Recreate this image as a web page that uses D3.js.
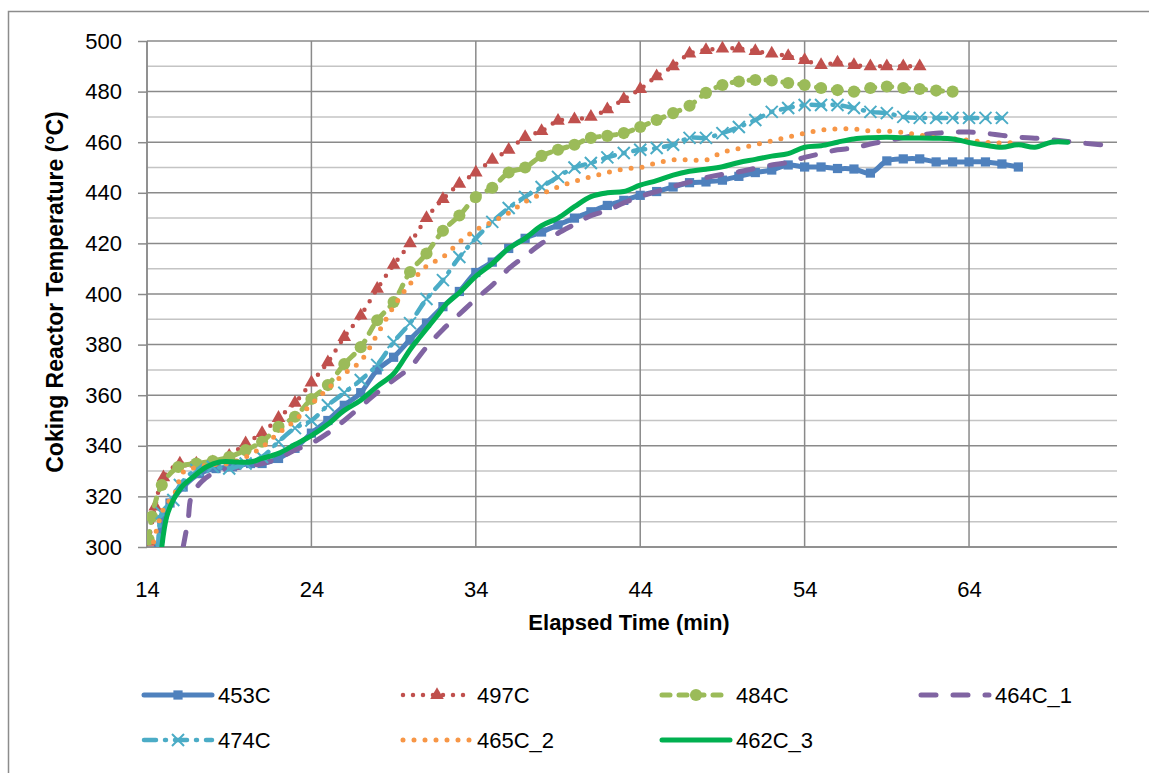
<!DOCTYPE html>
<html>
<head>
<meta charset="utf-8">
<script src="https://cdn.jsdelivr.net/npm/d3@7"></script>
<style>
  body { margin: 0; background: #fff; }
  text { font-family: "Liberation Sans", Arial, sans-serif; fill: #000; }
</style>
</head>
<body>
<div id="chart-area"></div>
<script>
// chart values (time in min, temperature in °C)
let xTicks = [14, 24, 34, 44, 54, 64];
let yTicks = [300, 320, 340, 360, 380, 400, 420, 440, 460, 480, 500];

let t453 = [14.7,14.9,15.4,16.2,17.2,18.2,19.2,20.3,21,22,23,24,25,26,27,28,29,30,31,32,33,34,35,36,37,38,39,40,41,42,43,44,45,46,47,48,49,50,51,52,53,54,55,56,57,58,59,60,61,62,63,64,65,66,67];
let v453 = [300,310.7,317.4,323.7,329,331,331.7,333,333,335,339,345,350,356,361,370,375,382,388.5,395,401,408.5,412.6,418,422,424.5,427.3,430,432.5,435,437,439,440.5,442.3,444,444.3,445,446.5,448,449,451,450.2,450.2,449.6,449.4,447.8,452.6,453.4,453.4,452.2,452.2,452.2,452.2,451.4,450.2];

let t497 = [14.1,14.5,15,16,17,18,19,20,21,22,23,24,25,26,27,28,29,30,31,32,33,34,35,36,37,38,39,40,41,42,43,44,45,46,47,48,49,50,51,52,53,54,55,56,57,58,59,60,61];
let v497 = [302,316,327.5,333,333,333.5,336,341,345,351,357,365,373,383,391.5,402,411.5,420,430,437.5,443.5,448,453,457,462,464.4,468.4,469,470,473,477,481,486,490,495,496.4,497,497,496,495,494,492.5,490.5,491.5,490.5,490,490,490,490];

let t484 = [14.1,14.3,14.9,15.9,17,18,19,20,21,22,23,24,25,26,27,28,29,30,31,32,33,34,35,36,37,38,39,40,41,42,43,44,45,46,47,48,49,50,51,52,53,54,55,56,57,58,59,60,61,62,63];
let v484 = [303,312,324.5,331.6,333,334,335.6,338.3,341.6,347.5,351.5,358.5,364,372.3,379,389.6,396.8,408.7,416,425,431,438.3,442,448,450,454.6,457,459,461.7,462.5,463.6,466,468.8,471.5,474.4,479.5,482.6,484,484.6,484.4,483.4,482.6,481.4,480.6,480,481.4,482,481.4,481,480.4,480];

let t464 = [16.2,16.5,16.7,17.3,18,19,20,21,22,23,24,25,26,27,28,29,30,31,32,33,34,35,36,37,38,39,40,41,42,43,44,45,46,47,48,49,50,51,52,53,54,55,56,57,58,59,60,61,62,63,64,65,66,67,68,69,70,71,72,73];
let v464 = [300,310.7,320,325.7,329,331,331.7,333,335,338.3,341,345,350,355.5,361,366,371,379,386,392,398,403.5,410,415,420,424,427.5,431,433,436,438.5,440.5,442.5,444.3,446,447.3,448.3,449.7,451,452,454,455.5,457,457.7,459.3,460.5,461.8,462.8,463.5,464,464,463.5,462.7,462,461.6,461,460.3,459.6,459,458.3];

let t474 = [14.7,14.9,15.6,16,17,18,19,20,21,22,23,24,25,26,27,28,29,30,31,32,33,34,35,36,37,38,39,40,41,42,43,44,45,46,47,48,49,50,51,52,53,54,55,56,57,58,59,60,61,62,63,64,65,66];
let v474 = [300,313.4,318.6,324.5,330.5,331.7,331,333,335.6,341.6,347,350,356,361,366,372,381,388.5,398,405.5,414.6,422,428.5,434,438.4,442.3,446.3,450,451.8,454,455.7,457,457.7,459,461.7,461.7,463.6,466,468.8,472,473.5,474.7,474.7,474.7,473.5,472,471.5,470,469.6,469.6,469.6,469.6,469.6,469.6];

let t465 = [14.4,15,15.7,16.2,17,18,19,20,21,22,23,24,25,26,27,28,29,30,31,32,33,34,35,36,37,38,39,40,41,42,43,44,45,46,47,48,49,50,51,52,53,54,55,56,57,58,59,60,61,62,63,64,65,66,67];
let v465 = [302,315,321.3,329.6,331.5,332.5,333,335.6,339.5,345,350,356.5,362.5,368.5,373.5,384,395,404,411,414.6,420.5,425.3,428.5,432,436.5,439.5,442.3,444.5,446.3,448,449.4,450,451.8,453,453,453,456,457.5,459,460.5,462,463.5,464.8,465.2,465.2,464.4,464.4,463.8,462.8,461.7,461.3,460.8,460,459.7,460];

let t462 = [14.9,15.2,15.6,16.1,16.8,17.6,18.4,19.5,20.3,21,22,23,24,25,26,27,28,29,30,30.6,31.6,32.2,33,34,35,36,37,38,39,40,41,42,43,44,45,46,47,48,49,50,51,52,53,54,55,56,57,58,59,60,61,62,63,64,65,66,67,68,69,70];
let v462 = [300,312,318.6,323.7,327.7,331.6,333.6,333.6,333.6,335,337,340.5,344,348.5,354,358,363.5,368.5,378,383,391,396,400.5,407,412,418,422,427,430,434.5,438.5,440,440.5,443,444.8,447,448.5,449.3,450.3,452,453.2,454.5,455.5,458,458.6,460,461.3,461.8,462,461.7,461.7,461.6,461.3,459.9,458.8,458,459,458,460,460];

let seriesNames = ["453C", "497C", "484C", "464C_1", "474C", "465C_2", "462C_3"];
let seriesTimes = [t453, t497, t484, t464, t474, t465, t462];
let seriesTemps = [v453, v497, v484, v464, v474, v465, v462];

// look of each series (Excel 2010 palette)
let styles = [
	{color: "#4F81BD", width: 5, dash: null, marker: "square"},
	{color: "#C0504D", width: 4.5, dash: "0,10", marker: "triangle"},
	{color: "#9BBB59", width: 5, dash: "8,9", marker: "circle"},
	{color: "#8064A2", width: 5, dash: "15,17", marker: null},
	{color: "#4BACC6", width: 4.5, dash: "12,9,1,9", marker: "x"},
	{color: "#F79646", width: 5, dash: "0,11", marker: null},
	{color: "#00B050", width: 5, dash: null, marker: null}
];

let W = 1149, H = 773;
let plot = {left: 147, top: 41, right: 1117, bottom: 547};

let svg = d3.select("#chart-area").append("svg")
	.attr("width", W)
	.attr("height", H);

// outer chart border
svg.append("rect")
	.attr("x", 8.5).attr("y", 11.5)
	.attr("width", 1200).attr("height", 800)
	.attr("fill", "none")
	.attr("stroke", "#8c8c8c")
	.attr("stroke-width", 1.5);

let xScale = d3.scaleLinear().domain([14, 73]).range([plot.left, plot.right]);
let yScale = d3.scaleLinear().domain([300, 500]).range([plot.bottom, plot.top]);

// minor horizontal grid every 10
let minor = d3.range(310, 500, 20);
svg.append("g").selectAll("line")
	.data(minor)
	.enter().append("line")
	.attr("x1", plot.left).attr("x2", plot.right)
	.attr("y1", d => yScale(d)).attr("y2", d => yScale(d))
	.attr("stroke", "#c4c4c4")
	.attr("stroke-width", 1.5);

// major horizontal grid
svg.append("g").selectAll("line")
	.data(yTicks)
	.enter().append("line")
	.attr("x1", plot.left).attr("x2", plot.right)
	.attr("y1", d => yScale(d)).attr("y2", d => yScale(d))
	.attr("stroke", "#8a8a8a")
	.attr("stroke-width", 1.5);

// vertical grid
svg.append("g").selectAll("line")
	.data(xTicks)
	.enter().append("line")
	.attr("x1", d => xScale(d)).attr("x2", d => xScale(d))
	.attr("y1", plot.top).attr("y2", plot.bottom)
	.attr("stroke", "#8a8a8a")
	.attr("stroke-width", 1.5);

// axes
let yAxis = d3.axisLeft(yScale).tickValues(yTicks).tickSize(9).tickPadding(16);
let yGroup = svg.append("g")
	.attr("transform", `translate(${plot.left},0)`)
	.call(yAxis);

let xAxis = d3.axisBottom(xScale).tickValues(xTicks).tickSize(0).tickPadding(34);
let xGroup = svg.append("g")
	.attr("transform", `translate(0,${plot.bottom})`)
	.call(xAxis);

[xGroup, yGroup].forEach(g => {
	g.select(".domain").remove();
	g.selectAll(".tick line").attr("stroke", "#8a8a8a").attr("stroke-width", 1.5);
	g.selectAll(".tick text")
		.style("font-family", "'Liberation Sans', Arial, sans-serif")
		.style("font-size", "22px")
		.attr("fill", "#000");
});

svg.append("line")
	.attr("x1", plot.left).attr("x2", plot.left)
	.attr("y1", plot.top).attr("y2", plot.bottom)
	.attr("stroke", "#8a8a8a").attr("stroke-width", 1.5);
svg.append("line")
	.attr("x1", plot.left).attr("x2", plot.right)
	.attr("y1", plot.bottom).attr("y2", plot.bottom)
	.attr("stroke", "#8a8a8a").attr("stroke-width", 1.5);

// axis titles
svg.append("text")
	.attr("x", (plot.left + plot.right) / 2 - 3)
	.attr("y", 630)
	.attr("text-anchor", "middle")
	.style("font-size", "22px")
	.style("font-weight", "bold")
	.text("Elapsed Time (min)");

svg.append("text")
	.attr("transform", `translate(63,${(plot.top + plot.bottom) / 2 - 2}) rotate(-90)`)
	.attr("text-anchor", "middle")
	.style("font-size", "23px")
	.style("font-weight", "bold")
	.text("Coking Reactor Temperature (°C)");

// clip to plot area
svg.append("clipPath").attr("id", "clip")
	.append("rect")
	.attr("x", plot.left).attr("y", plot.top - 10)
	.attr("width", plot.right - plot.left)
	.attr("height", plot.bottom - plot.top + 10);

let lineGen = d3.line()
	.x(d => xScale(d[0]))
	.y(d => yScale(d[1]))
	.curve(d3.curveCatmullRom.alpha(0.5));

function drawMarker(g, type, color, x, y) {
	if (type === "x") {
		g.append("path")
			.attr("d", `M${x - 6},${y - 6}L${x + 6},${y + 6}M${x - 6},${y + 6}L${x + 6},${y - 6}`)
			.attr("stroke", color).attr("stroke-width", 2).attr("fill", "none");
	} else {
		let sym = type === "square" ? d3.symbolSquare : type === "triangle" ? d3.symbolTriangle : d3.symbolCircle;
		let size = type === "square" ? 85 : type === "triangle" ? 80 : 115;
		g.append("path")
			.attr("d", d3.symbol().type(sym).size(size)())
			.attr("transform", `translate(${x},${y})`)
			.attr("fill", color);
	}
}

let series = svg.append("g").attr("clip-path", "url(#clip)");

seriesNames.forEach((name, i) => {
	let st = styles[i];
	let pts = seriesTimes[i].map((t, j) => [t, seriesTemps[i][j]]);
	let g = series.append("g").attr("class", "series");
	g.append("path")
		.datum(pts)
		.attr("d", lineGen)
		.attr("fill", "none")
		.attr("stroke", st.color)
		.attr("stroke-width", st.width)
		.attr("stroke-linecap", "round")
		.attr("stroke-linejoin", "round")
		.attr("stroke-dasharray", st.dash);
	if (st.marker) {
		pts.forEach(p => drawMarker(g, st.marker, st.color, xScale(p[0]), yScale(p[1])));
	}
});

// legend
let legX = [218, 477, 736, 995];
let legY = [695, 740];
let legend = svg.append("g");
seriesNames.forEach((name, i) => {
	let st = styles[i];
	let tx = legX[i % 4], ty = legY[Math.floor(i / 4)];
	legend.append("line")
		.attr("x1", tx - 74).attr("x2", tx - 6)
		.attr("y1", ty).attr("y2", ty)
		.attr("stroke", st.color)
		.attr("stroke-width", st.width)
		.attr("stroke-linecap", "round")
		.attr("stroke-dasharray", st.dash);
	if (st.marker) drawMarker(legend, st.marker, st.color, tx - 40, ty);
	legend.append("text")
		.attr("x", tx).attr("y", ty)
		.attr("dy", "0.35em")
		.style("font-size", "22px")
		.text(name);
});
</script>
</body>
</html>
